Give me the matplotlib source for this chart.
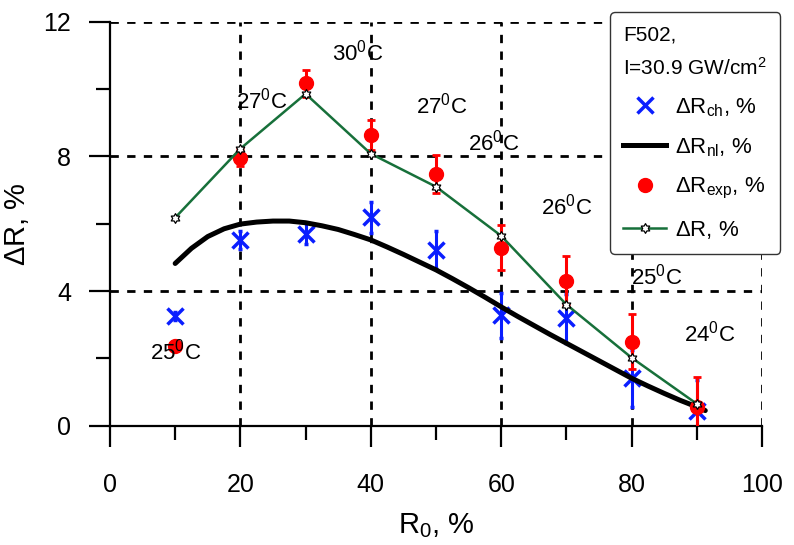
import numpy as np
import matplotlib
matplotlib.use("Agg")
import matplotlib.pyplot as plt
from matplotlib.path import Path
from matplotlib.lines import Line2D
from matplotlib.ticker import MultipleLocator

plt.rcParams['font.family'] = ['Liberation Sans', 'DejaVu Sans']
plt.rcParams['mathtext.fontset'] = 'custom'
plt.rcParams['mathtext.rm'] = 'Liberation Sans'
plt.rcParams['mathtext.it'] = 'Liberation Sans:italic'

# --- data ---
r0 = [10, 20, 30, 40, 50, 60, 70, 80, 90]

dr_ch = [3.27, 5.51, 5.71, 6.19, 5.22, 3.28, 3.19, 1.41, 0.45]
dr_ch_err = [0.12, 0.27, 0.3, 0.46, 0.55, 0.67, 0.72, 0.84, 0.9]

dr_exp = [2.38, 7.96, 10.18, 8.64, 7.48, 5.29, 4.31, 2.5, 0.55]
dr_exp_err = [0.0, 0.25, 0.4, 0.45, 0.57, 0.67, 0.73, 0.82, 0.9]

dr_total = [6.18, 8.23, 9.86, 8.08, 7.1, 5.64, 3.6, 2.02, 0.65]

# nonlinear curve
nl_x = [10, 12.5, 15, 17.5, 20, 22.5, 25, 27.5, 30, 32.5, 35, 37.5, 40, 42.5, 45,
        47.5, 50, 52.5, 55, 57.5, 60, 62.5, 65, 67.5, 70, 72.5, 75, 77.5, 80,
        82.5, 85, 87.5, 90, 91.3]
nl_y = [4.82, 5.27, 5.62, 5.85, 5.99, 6.05, 6.08, 6.08, 6.03, 5.94, 5.83, 5.68, 5.52,
        5.31, 5.09, 4.86, 4.63, 4.37, 4.1, 3.82, 3.53, 3.25, 2.98, 2.71, 2.45, 2.19,
        1.93, 1.67, 1.41, 1.18, 0.96, 0.75, 0.56, 0.45]

temp_labels = ['25', '27', '30', '27', '26', '26', '25', '24']
temp_x = [10.1, 23.3, 38.0, 50.8, 58.9, 70.1, 83.9, 92.0]
temp_y = [2.19, 9.67, 11.1, 9.52, 8.4, 6.5, 4.42, 2.75]

x_grid = [20, 40, 60, 80, 100]
y_grid = [4, 8, 12]

# six-pointed star marker
ang = np.deg2rad(90 + 30 * np.arange(12))
rad = np.where(np.arange(12) % 2 == 0, 1.0, 1 / np.sqrt(3))
verts = np.column_stack([rad * np.cos(ang), rad * np.sin(ang)])
verts = np.vstack([verts, verts[:1]])
hexagram = Path(verts, closed=True)

blue = '#0a1eff'
red = '#ff0000'
green = '#17703a'

fig = plt.figure(figsize=(7.94, 5.45), dpi=100)
ax = fig.add_axes([0.1385, 0.2189, 0.8212, 0.7411])

# dashed grid (not drawn on the axes lines themselves)
for gx in x_grid:
    ax.axvline(gx, color='black', ls=(0, (3, 3)), lw=2, zorder=1)
for gy in y_grid:
    ax.axhline(gy, color='black', ls=(0, (3, 3)), lw=2, zorder=1)

ax.errorbar(r0, dr_ch, yerr=dr_ch_err, fmt='x', color=blue, ms=11, mew=2.5,
            elinewidth=2.2, capsize=1.5, capthick=2, zorder=3)
ax.plot(nl_x, nl_y, color='black', lw=3.6, zorder=4, solid_capstyle='round',
        solid_joinstyle='round')
ax.errorbar(r0, dr_exp, yerr=dr_exp_err, fmt='o', color=red, ms=10,
            elinewidth=2.2, capsize=3, capthick=2, zorder=5)
ax.plot(r0, dr_total, color=green, lw=1.8, marker=hexagram, ms=7,
        mfc='white', mec='black', mew=0.9, zorder=6)

for t, x, y in zip(temp_labels, temp_x, temp_y):
    ax.text(x, y, t + r'$^{\rm 0}$C', fontsize=16, ha='center', va='center', zorder=7)

ax.set_xlim(0, 100)
ax.set_ylim(0, 12)
ax.xaxis.set_major_locator(MultipleLocator(20))
ax.xaxis.set_minor_locator(MultipleLocator(10))
ax.yaxis.set_major_locator(MultipleLocator(4))
ax.yaxis.set_minor_locator(MultipleLocator(2))
ax.tick_params(which='major', length=15, width=1.6, labelsize=18)
ax.tick_params(which='minor', length=10, width=1.6)
ax.tick_params(axis='x', which='major', pad=19)
ax.tick_params(axis='y', which='major', pad=13)

for s in ['top', 'right']:
    ax.spines[s].set_visible(False)
for s in ['left', 'bottom']:
    ax.spines[s].set_linewidth(1.6)

ax.set_xlabel(r'R$_0$, %', fontsize=21, labelpad=10)
ax.set_ylabel(r'$\Delta$R, %', fontsize=21, labelpad=9)

handles = [
    Line2D([], [], ls='none', marker='x', color=blue, ms=11, mew=2.5),
    Line2D([], [], color='black', lw=3.6),
    Line2D([], [], ls='none', marker='o', color=red, ms=10),
    Line2D([], [], color=green, lw=1.8, marker=hexagram, ms=7, mfc='white',
           mec='black', mew=0.9),
]
labels = [r'$\Delta$R$_{\rm ch}$, %', r'$\Delta$R$_{\rm nl}$, %',
          r'$\Delta$R$_{\rm exp}$, %', r'$\Delta$R, %']

leg = ax.legend(handles, labels, loc='upper left', bbox_to_anchor=(0.767, 1.024),
                borderaxespad=0, title='F502,\nI=30.9 GW/cm$^2$', title_fontsize=15,
                alignment='left', fontsize=16, frameon=True, fancybox=True,
                handlelength=1.9, handletextpad=0.4, labelspacing=0.78, borderpad=0.6)
leg.get_title().set_linespacing(1.7)
leg.get_frame().set_edgecolor('#333333')
leg.get_frame().set_linewidth(1.0)
leg.get_frame().set_alpha(1)
leg.set_zorder(10)

fig.savefig('out.png', dpi=100)
